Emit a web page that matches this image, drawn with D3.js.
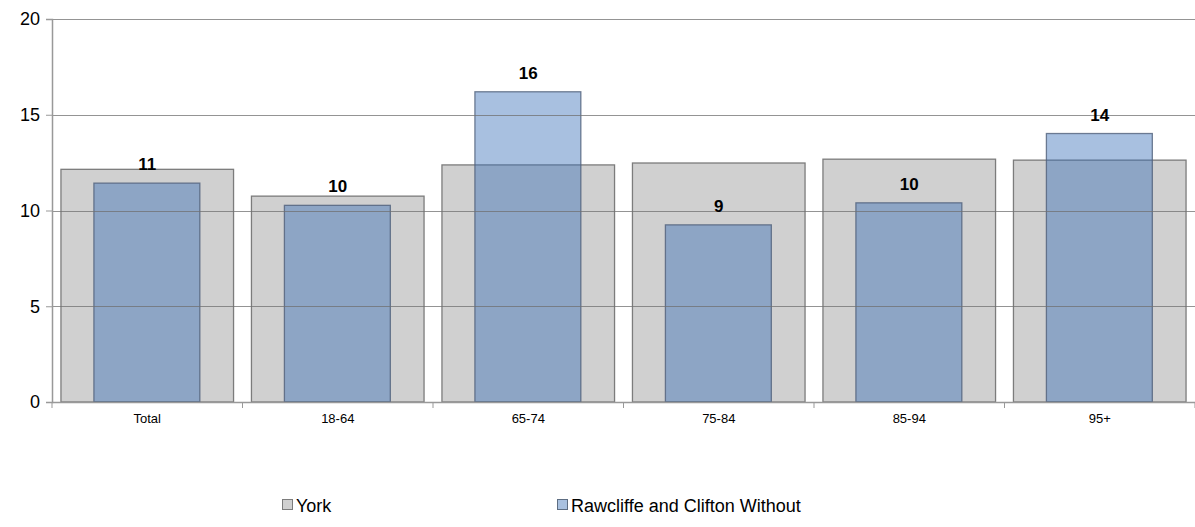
<!DOCTYPE html>
<html><head><meta charset="utf-8">
<script src="https://cdn.jsdelivr.net/npm/d3@7"></script>
<style>body{margin:0;background:#fff}svg{display:block}</style>
</head><body>
<svg id="c" width="1195" height="527"></svg>
<script>
const categories = ["Total","18-64","65-74","75-84","85-94","95+"];
const yorkValues = [12.15, 10.75, 12.38, 12.48, 12.68, 12.63];
const rawcliffeValues = [11.43, 10.27, 16.2, 9.25, 10.4, 14.02];
const yTicks = [0, 5, 10, 15, 20];
const seriesNames = ["York", "Rawcliffe and Clifton Without"];

(function(){
const svg = d3.select("#c");
const font = "'Liberation Sans', Arial, sans-serif";
const mLeft = 52, mRight = 1195, mTop = 19, mBottom = 402;

const x = d3.scaleBand().domain(categories).range([mLeft, mRight]);
const y = d3.scaleLinear().domain([0, 20]).range([mBottom, mTop]);

// York bars
svg.append("g").selectAll("rect").data(categories).join("rect")
  .attr("x", d => x(d) + x.bandwidth()*0.047)
  .attr("width", x.bandwidth()*0.906)
  .attr("y", (d,i) => y(yorkValues[i]))
  .attr("height", (d,i) => y(0) - y(yorkValues[i]))
  .attr("fill", "#d0d0d0").attr("stroke", "#7c7c7c").attr("stroke-width", 1.3);

// Rawcliffe bars (semi-transparent)
svg.append("g").selectAll("rect").data(categories).join("rect")
  .attr("x", d => x(d) + x.bandwidth()*0.22)
  .attr("width", x.bandwidth()*0.556)
  .attr("y", (d,i) => y(rawcliffeValues[i]))
  .attr("height", (d,i) => y(0) - y(rawcliffeValues[i]))
  .attr("fill", "rgb(53,109,182)").attr("fill-opacity", 0.43)
  .attr("stroke", "#50607a").attr("stroke-opacity", 0.8).attr("stroke-width", 1.3);

// gridlines on top
svg.append("g").selectAll("line").data(yTicks.filter(t => t > 0)).join("line")
  .attr("x1", mLeft).attr("x2", mRight)
  .attr("y1", d => Math.round(y(d)) + 0.5).attr("y2", d => Math.round(y(d)) + 0.5)
  .attr("stroke", "#707070").attr("stroke-opacity", 0.75).attr("stroke-width", 1);

// y axis
const yAxis = svg.append("g").attr("transform", `translate(${mLeft},0)`)
  .call(d3.axisLeft(y).tickValues(yTicks).tickSize(6).tickPadding(6));
yAxis.select(".domain").attr("stroke", "#999").attr("stroke-width", 1.5);
yAxis.selectAll(".tick line").attr("stroke", "#999");
yAxis.selectAll("text").attr("font-family", font).attr("font-size", 18).attr("fill", "#000");

// x axis
const xAxis = svg.append("g").attr("transform", `translate(0,${mBottom})`)
  .call(d3.axisBottom(x).tickSize(0).tickPadding(12));
xAxis.select(".domain").attr("stroke", "#999").attr("stroke-width", 1.5);
xAxis.selectAll("text").attr("font-family", font).attr("font-size", 13).attr("fill", "#000");
// category boundary ticks
svg.append("g").selectAll("line").data(d3.range(categories.length + 1)).join("line")
  .attr("x1", i => mLeft + i * x.step()).attr("x2", i => mLeft + i * x.step())
  .attr("y1", mBottom).attr("y2", mBottom + 6)
  .attr("stroke", "#999").attr("stroke-width", 1);

// data labels
svg.append("g").selectAll("text").data(categories).join("text")
  .attr("x", d => x(d) + x.bandwidth()/2)
  .attr("y", (d,i) => y(rawcliffeValues[i]) - 13)
  .attr("text-anchor", "middle")
  .attr("font-family", font).attr("font-size", 17).attr("font-weight", "bold")
  .text((d,i) => Math.round(rawcliffeValues[i]));

// legend
const legendItems = [
  {name: seriesNames[0], x: 282, fill: "#d0d0d0", stroke: "#7c7c7c"},
  {name: seriesNames[1], x: 557, fill: "#a9c1e0", stroke: "#5d6d82"}
];
const lg = svg.append("g").selectAll("g").data(legendItems).join("g")
  .attr("transform", d => `translate(${d.x},505)`);
lg.append("rect").attr("x", 0.5).attr("y", -5.5).attr("width", 10).attr("height", 10)
  .attr("fill", d => d.fill).attr("stroke", d => d.stroke).attr("stroke-width", 1);
lg.append("text").attr("x", 14).attr("y", 6.5)
  .attr("font-family", font).attr("font-size", 18).attr("fill", "#000")
  .text(d => d.name);
})();
</script>
</body></html>
